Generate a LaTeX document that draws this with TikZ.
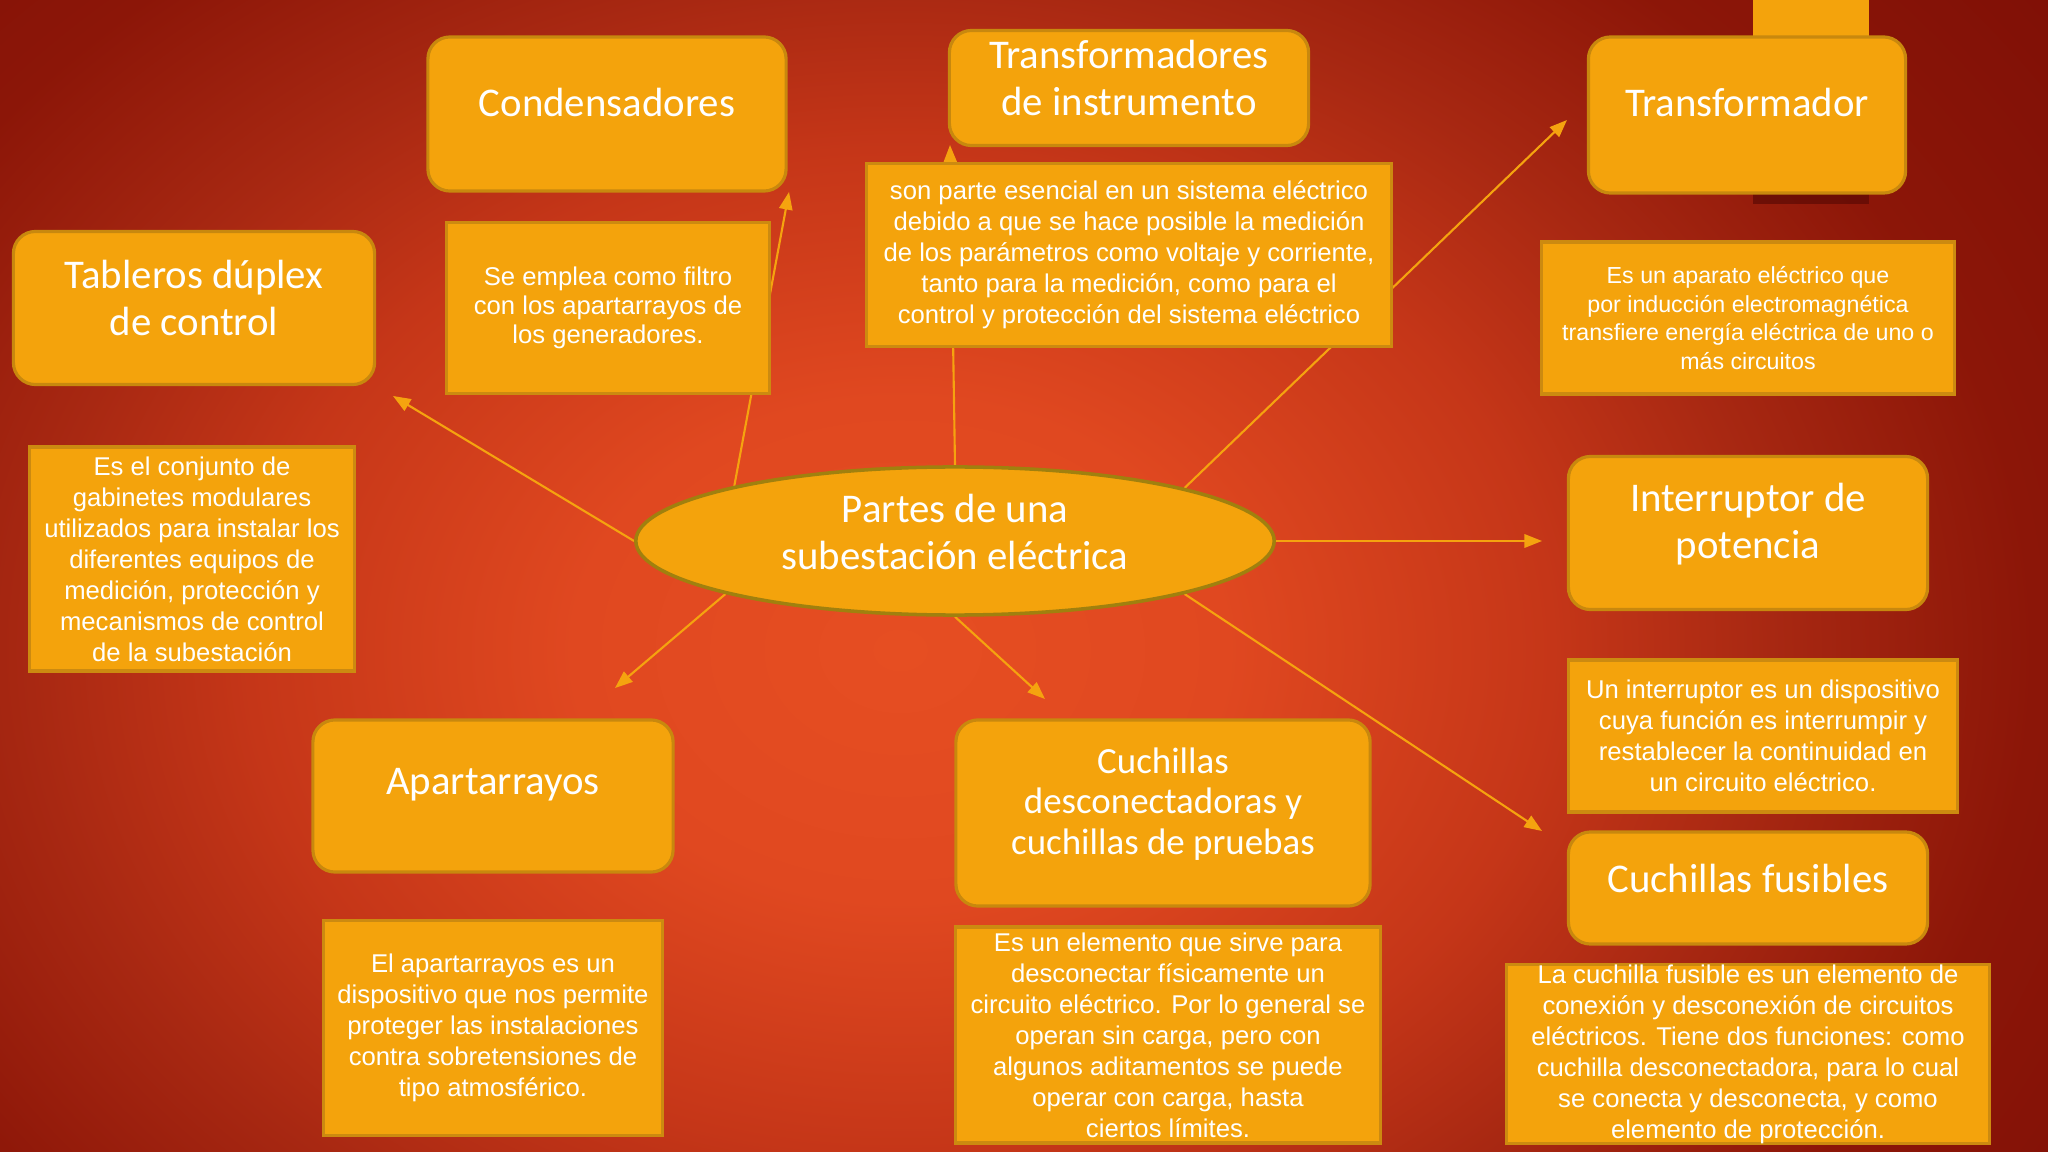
\documentclass[tikz,border=0pt]{standalone}
\usepackage{fontspec}
\usetikzlibrary{shapes.geometric,arrows.meta}
\newfontfamily\ttlfont{Carlito}
\newfontfamily\dscfont{Liberation Sans}

\definecolor{bgcore}{HTML}{E64E22}
\definecolor{bgA}{HTML}{E04820}
\definecolor{bgB}{HTML}{C53618}
\definecolor{bgC}{HTML}{A82812}
\definecolor{bgD}{HTML}{8C1608}
\definecolor{bgE}{HTML}{801006}
\definecolor{boxfill}{HTML}{F4A30C}
\definecolor{boxline}{HTML}{C8880E}
\definecolor{dboxline}{HTML}{CC8A10}
\definecolor{hubline}{HTML}{A0800E}
\definecolor{linkcol}{HTML}{F5A30F}
\definecolor{shadowred}{HTML}{5C0A04}

\pgfdeclareradialshading{bgglow}{\pgfpoint{0bp}{0bp}}{color(0bp)=(bgcore); color(5.7bp)=(bgA); color(11.4bp)=(bgB); color(15.2bp)=(bgC); color(19.8bp)=(bgD); color(25bp)=(bgE); color(50bp)=(bgE)}
\pgfdeclarelayer{bg}
\pgfdeclarelayer{links}
\pgfsetlayers{bg,links,main}

\begin{document}
\begin{tikzpicture}[x=0.01cm, y=-0.01cm,
  tbox/.style={draw=boxline, line width=0.9pt, fill=boxfill, rounded corners=0.22cm, inner sep=0pt},
  ttl/.style={text=white, align=center, font=\ttlfont\fontsize{11.6}{13.4}\selectfont},
  dbox/.style={draw=dboxline, line width=0.9pt, fill=boxfill, inner sep=0pt, text=white, align=center, font=\dscfont\fontsize{7.3}{8.8}\selectfont},
  link/.style={draw=linkcol, line width=0.6pt, -{Triangle[length=5pt,width=3.8pt]}}]
\useasboundingbox (0,0) rectangle (2048,1152);

% background glow
\begin{pgfonlayer}{bg}
\fill[bgE] (0,0) rectangle (2048,1152);
\clip (0,0) rectangle (2048,1152);
\shade[shading=bgglow] (900,650) ellipse [x radius=14.3cm, y radius=11cm];
\end{pgfonlayer}

% tab behind the top right box
\fill[boxfill] (1753,0) rectangle (1869,40);
\fill[shadowred, opacity=0.7] (1753,190) rectangle (1869,204);

% centre
\node[ellipse, draw=hubline, line width=1pt, fill=boxfill, minimum width=6.38cm, minimum height=1.48cm, inner sep=0pt] (hub) at (955,541) {};
\node[ttl] (hubT) at ([yshift=0.09cm]hub.center) {Partes de una\\subestación eléctrica};

% titles
\node[tbox, minimum width=3.58cm, minimum height=1.54cm] (cond) at (607,114) {};
\node[ttl] (condT) at ([yshift=0.11cm]cond.center) {Condensadores};
\node[tbox, minimum width=3.59cm, minimum height=1.15cm] (inst) at (1129,88) {};
\node[ttl] (instT) at ([yshift=0.1cm]inst.center) {Transformadores\\de instrumento};
\node[tbox, minimum width=3.17cm, minimum height=1.56cm] (trf) at (1747,115) {};
\node[ttl] (trfT) at ([yshift=0.12cm]trf.center) {Transformador};
\node[tbox, minimum width=3.61cm, minimum height=1.53cm] (tab) at (194,308) {};
\node[ttl] (tabT) at ([yshift=0.1cm]tab.center) {Tableros dúplex\\de control};
\node[tbox, minimum width=3.59cm, minimum height=1.53cm] (intr) at (1748,533) {};
\node[ttl] (intrT) at ([yshift=0.09cm]intr.center) {Interruptor de\\potencia};
\node[tbox, minimum width=3.59cm, minimum height=1.12cm] (fus) at (1748,888) {};
\node[ttl] (fusT) at ([yshift=0.1cm]fus.center) {Cuchillas fusibles};
\node[tbox, minimum width=3.60cm, minimum height=1.52cm] (apa) at (493,796) {};
\node[ttl] (apaT) at ([yshift=0.11cm]apa.center) {Apartarrayos};
\node[tbox, minimum width=4.14cm, minimum height=1.86cm] (cuc) at (1163,813) {};
\node[ttl, font=\ttlfont\fontsize{10.5}{11.5}\selectfont] (cucT) at ([yshift=0.09cm]cuc.center) {Cuchillas\\desconectadoras y\\cuchillas de pruebas};

% descriptions
\node[dbox, minimum width=3.22cm, minimum height=1.71cm, font=\dscfont\fontsize{7.3}{8.2}\selectfont] (condD) at (608,308)
  {Se emplea como filtro\\con los apartarrayos de\\los generadores.};
\node[dbox, minimum width=5.25cm, minimum height=1.83cm] (instD) at (1129,255)
  {son parte esencial en un sistema eléctrico\\debido a que se hace posible la medición\\de los parámetros como voltaje y corriente,\\tanto para la medición, como para el\\control y protección del sistema eléctrico};
\node[dbox, minimum width=4.12cm, minimum height=1.52cm, font=\dscfont\fontsize{6.6}{8.1}\selectfont] (trfD) at (1748,318)
  {Es un aparato eléctrico que\\por inducción electromagnética\\transfiere energía eléctrica de uno o\\más circuitos};
\node[dbox, minimum width=3.24cm, minimum height=2.24cm] (tabD) at (192,559)
  {Es el conjunto de\\gabinetes modulares\\utilizados para instalar los\\diferentes equipos de\\medición, protección y\\mecanismos de control\\de la subestación};
\node[dbox, minimum width=3.89cm, minimum height=1.52cm] (intrD) at (1763,736)
  {Un interruptor es un dispositivo\\cuya función es interrumpir y\\restablecer la continuidad en\\un circuito eléctrico.};
\node[dbox, minimum width=4.82cm, minimum height=1.78cm] (fusD) at (1748,1054)
  {La cuchilla fusible es un elemento de\\conexión y desconexión de circuitos\\eléctricos. Tiene dos funciones: como\\cuchilla desconectadora, para lo cual\\se conecta y desconecta, y como\\elemento de protección.};
\node[dbox, minimum width=3.39cm, minimum height=2.15cm] (apaD) at (493,1028)
  {El apartarrayos es un\\dispositivo que nos permite\\proteger las instalaciones\\contra sobretensiones de\\tipo atmosférico.};
\node[dbox, minimum width=4.24cm, minimum height=2.16cm] (cucD) at (1168,1035)
  {Es un elemento que sirve para\\desconectar físicamente un\\circuito eléctrico. Por lo general se\\operan sin carga, pero con\\algunos aditamentos se puede\\operar con carga, hasta\\ciertos límites.};

% arrow tips
\coordinate (tipTab) at (393,396);
\coordinate (tipCond) at (789,192);
\coordinate (tipInst) at (950,145);
\coordinate (tipTrf) at (1567,120);
\coordinate (tipIntr) at (1542,541);
\coordinate (tipFus) at (1542,831);
\coordinate (tipCuc) at (1045,699);
\coordinate (tipApa) at (615,688);

\begin{pgfonlayer}{links}
\draw[link] (hub.west) -- (tipTab);
\draw[link] (hub.166.6) -- (tipCond);
\draw[link] (hub.north) -- (tipInst);
\draw[link] (hub.13.4) -- (tipTrf);
\draw[link] (hub.east) -- (tipIntr);
\draw[link] (hub.-13.4) -- (tipFus);
\draw[link] (hub.south) -- (tipCuc);
\draw[link] (hub.193.4) -- (tipApa);
\end{pgfonlayer}
\end{tikzpicture}
\end{document}
